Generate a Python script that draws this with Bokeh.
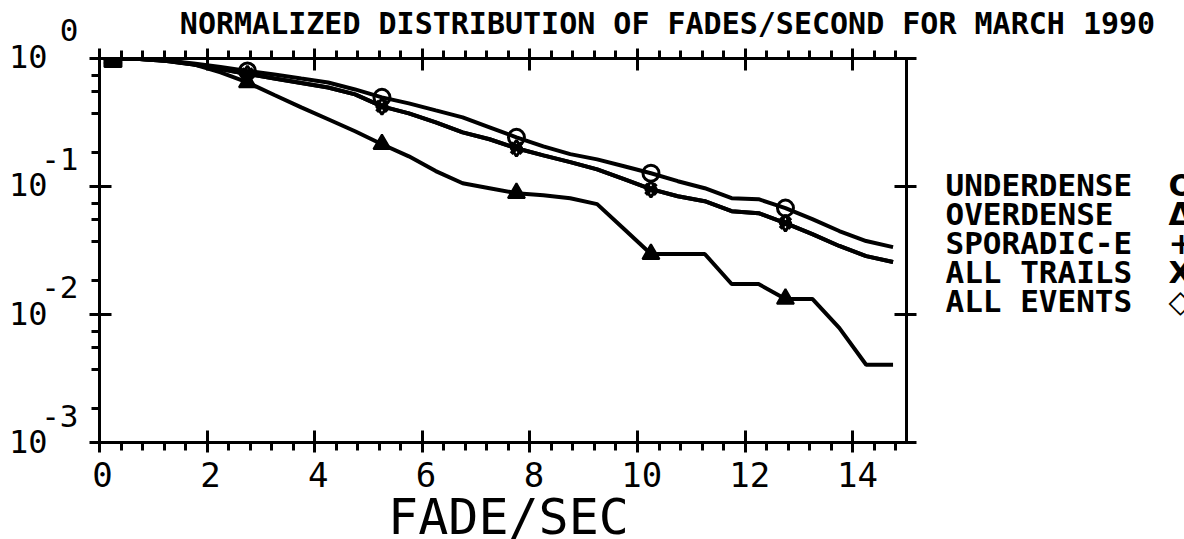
from bokeh.plotting import figure
from bokeh.layouts import column, row
from bokeh.models import (LinearAxis, LogAxis, FixedTicker, Range1d,
                          CustomLabelingPolicy)
from bokeh.core.properties import value
from bokeh.embed import file_html
from bokeh.resources import INLINE

# ---------------- data ----------------
fade_sec = [0.25, 0.75, 1.25, 1.75, 2.25, 2.75, 3.25, 3.75, 4.25, 4.75,
            5.25, 5.75, 6.25, 6.75, 7.25, 7.75, 8.25, 8.75, 9.25, 9.75,
            10.25, 10.75, 11.25, 11.75, 12.25, 12.75, 13.25, 13.75, 14.25, 14.75]

underdense = [1.0, 0.99, 0.965, 0.915, 0.858, 0.799, 0.75, 0.698, 0.65, 0.573,
              0.497, 0.446, 0.393, 0.347, 0.29, 0.242, 0.206, 0.179, 0.163, 0.144,
              0.127, 0.11, 0.097, 0.081, 0.0796, 0.0678, 0.0556, 0.0449, 0.0375, 0.0336]

overdense = [1.0, 0.99, 0.965, 0.90, 0.78, 0.65, 0.519, 0.415, 0.335, 0.27,
             0.214, 0.172, 0.132, 0.106, 0.097, 0.0887, 0.0855, 0.081, 0.0728, 0.0465,
             0.0297, 0.0297, 0.0297, 0.0173, 0.0173, 0.01324, 0.01324, 0.00787, 0.00405, 0.00405]

sporadic_e_x = [0.25]
sporadic_e = [1.0]

all_trails = [1.0, 0.99, 0.956, 0.898, 0.828, 0.757, 0.698, 0.644, 0.594, 0.524,
              0.423, 0.373, 0.317, 0.265, 0.234, 0.199, 0.175, 0.155, 0.136, 0.114,
              0.0953, 0.084, 0.0768, 0.0642, 0.0619, 0.0518, 0.0425, 0.0343, 0.0286, 0.0257]

all_events = [1.0, 0.99, 0.956, 0.898, 0.828, 0.757, 0.698, 0.644, 0.594, 0.524,
              0.423, 0.373, 0.317, 0.265, 0.234, 0.199, 0.175, 0.155, 0.136, 0.114,
              0.0953, 0.084, 0.0768, 0.0642, 0.0619, 0.0518, 0.0425, 0.0343, 0.0286, 0.0257]

marker_idx = [0, 5, 10, 15, 20, 25]

x_ticks = [0, 2, 4, 6, 8, 10, 12, 14]
x_tick_labels = ["0", "2", "4", "6", "8", "10", "12", "14"]
y_decades = [1e-3, 1e-2, 1e-1, 1.0]
y_exponents = ["-3", "-2", "-1", "0"]

title_text = "NORMALIZED DISTRIBUTION OF FADES/SECOND FOR MARCH 1990"
x_title = "FADE/SEC"
legend_names = ["UNDERDENSE", "OVERDENSE", "SPORADIC-E", "ALL TRAILS", "ALL EVENTS"]
legend_symbols = ["O", "\u0394", "+", "X", "\u25c7"]

# ---------------- page geometry ----------------
W, H = 1184, 539
FL, FR, FT, FB = 98, 907, 57, 442          # plot frame, page px
X0, X1 = 0.0, 15.0
PXU = (FR - FL) / (X1 - X0)
DEC = (FB - FT) / 3.0
FONT = "DejaVu Sans Mono"
ML, MR, MT, MB = FL - 14, FR + 14, FT - 13, FB + 14   # main figure box


def xd(px):
    return X0 + (px - FL) / PXU


def yd(py):
    return 10 ** (-(py - FT) / DEC)


def no_align(f):
    try:
        f.frame_align = False
        return True
    except Exception:
        return False


def panel(px0, py0, px1, py1, in_row=False):
    f = figure(width=px1 - px0, height=py1 - py0, title=None,
               x_range=Range1d(xd(px0), xd(px1)),
               y_range=Range1d(yd(py1), yd(py0)),
               y_axis_type="log", x_axis_location=None, y_axis_location=None,
               output_backend="svg", toolbar_location=None,
               min_border=0, min_border_left=0, min_border_right=0,
               min_border_top=0, min_border_bottom=0)
    ok = no_align(f)
    if in_row and not (ok and ALIGN_OFF):
        # frames in a row get aligned with the main plot's frame
        f.y_range = Range1d(yd(FB), yd(FT))
    f.grid.visible = False
    f.outline_line_color = None
    f.background_fill_color = "white"
    f.border_fill_color = "white"
    return f


def txt(f, xs, ys, texts, size, align="left", bold=False, font=FONT,
        x_offset=0):
    f.text(x=xs, y=ys, text=texts, text_font=value(font),
           text_font_size=value(size), text_align=align,
           text_baseline="middle", text_color="black",
           text_font_style="bold" if bold else "normal", x_offset=x_offset)


# ---------------- main plot ----------------
p = figure(width=MR - ML, height=MB - MT, x_range=(X0, X1), title=None,
           y_range=(1e-3, 1.0), y_axis_type="log", output_backend="svg",
           toolbar_location=None, min_border_left=FL - ML,
           min_border_right=MR - FR, min_border_top=FT - MT,
           min_border_bottom=MB - FB)
ALIGN_OFF = no_align(p)
p.grid.visible = False
p.outline_line_color = None
p.background_fill_color = "white"
p.border_fill_color = "white"

x_minor = [round(0.4 * i, 1) for i in range(1, 38) if i % 5]
y_minor = [m * d for d in y_decades[:-1] for m in (1.85, 3.7, 5.5, 7.35)]


def style(ax, minor=True):
    ax.axis_line_width = 3
    ax.axis_line_color = "black"
    ax.major_tick_line_width = 3
    ax.major_tick_line_color = "black"
    ax.minor_tick_line_width = 3
    ax.minor_tick_line_color = "black" if minor else None
    ax.major_tick_in = 12
    ax.major_tick_out = 10
    ax.minor_tick_in = 0
    ax.minor_tick_out = 8
    ax.major_label_policy = CustomLabelingPolicy(code="return []")
    ax.major_label_text_font_size = "1px"
    ax.major_label_standoff = 0


xb = p.below[0]
xb.ticker = FixedTicker(ticks=x_ticks, minor_ticks=x_minor)
style(xb)

xt = LinearAxis(ticker=FixedTicker(ticks=x_ticks, minor_ticks=x_minor))
style(xt)
p.add_layout(xt, "above")

yl = p.left[0]
yl.ticker = FixedTicker(ticks=y_decades, minor_ticks=y_minor)
style(yl)

yr = LogAxis(ticker=FixedTicker(ticks=y_decades, minor_ticks=[]))
style(yr, minor=False)
p.add_layout(yr, "right")

for ys in (underdense, overdense, all_trails, all_events):
    p.line(fade_sec, ys, line_width=4, line_color="black")

mx = [fade_sec[i] for i in marker_idx]
p.scatter(mx, [underdense[i] for i in marker_idx], marker="circle", size=16,
          fill_color=None, line_color="black", line_width=3)
p.scatter(mx, [overdense[i] for i in marker_idx], marker="triangle", size=17,
          fill_color="black", line_color="black", line_width=2)
p.scatter(mx, [all_trails[i] for i in marker_idx], marker="x", size=15,
          line_color="black", line_width=4)
p.scatter(mx, [all_events[i] for i in marker_idx], marker="diamond", size=16,
          fill_color=None, line_color="black", line_width=3)
p.scatter(sporadic_e_x, sporadic_e, marker="square", size=17,
          fill_color="black", line_color="black", line_width=2)

# ---------------- text panels ----------------
top = panel(0, 0, W, MT)
left = panel(0, MT, ML, MB, in_row=True)
right = panel(MR, MT, W, MB, in_row=True)
bottom = panel(0, MB, W, H)

# title (visual centre of the capitals)
txt(top, [xd(667)], [yd(23)], [title_text], "30px", align="center", bold=True)

# y tick labels: "10" plus a raised exponent
txt(left, [xd(47)] * len(y_decades), [d * 10 ** (1 / DEC) for d in y_decades],
    ["10"] * len(y_decades), "32px", align="right")
exp_y = [d * 10 ** (27 / DEC) for d in y_decades[:-1]]
txt(left, [xd(78)] * len(exp_y), exp_y, y_exponents[:-1], "31px",
    align="right")
txt(top, [xd(78)], [yd(29)], y_exponents[-1:], "31px", align="right")

# x tick labels and axis title
txt(bottom, x_ticks, [yd(474)] * len(x_ticks), x_tick_labels, "34px",
    align="center", x_offset=4)
txt(bottom, [xd(508)], [yd(516)], [x_title], "50px", align="center")

# legend
row0, step = 184, 29
leg_y = [yd(row0 + i * step) for i in range(len(legend_names))]
txt(right, [xd(945)] * len(legend_names), leg_y, legend_names, "31px",
    bold=True)
txt(right, [xd(1168)] * len(legend_symbols), leg_y, legend_symbols, "31px",
    bold=True, font="DejaVu Sans")

layout = column(top, row(left, p, right), bottom)
open("out.html", "w").write(file_html(layout, INLINE))
